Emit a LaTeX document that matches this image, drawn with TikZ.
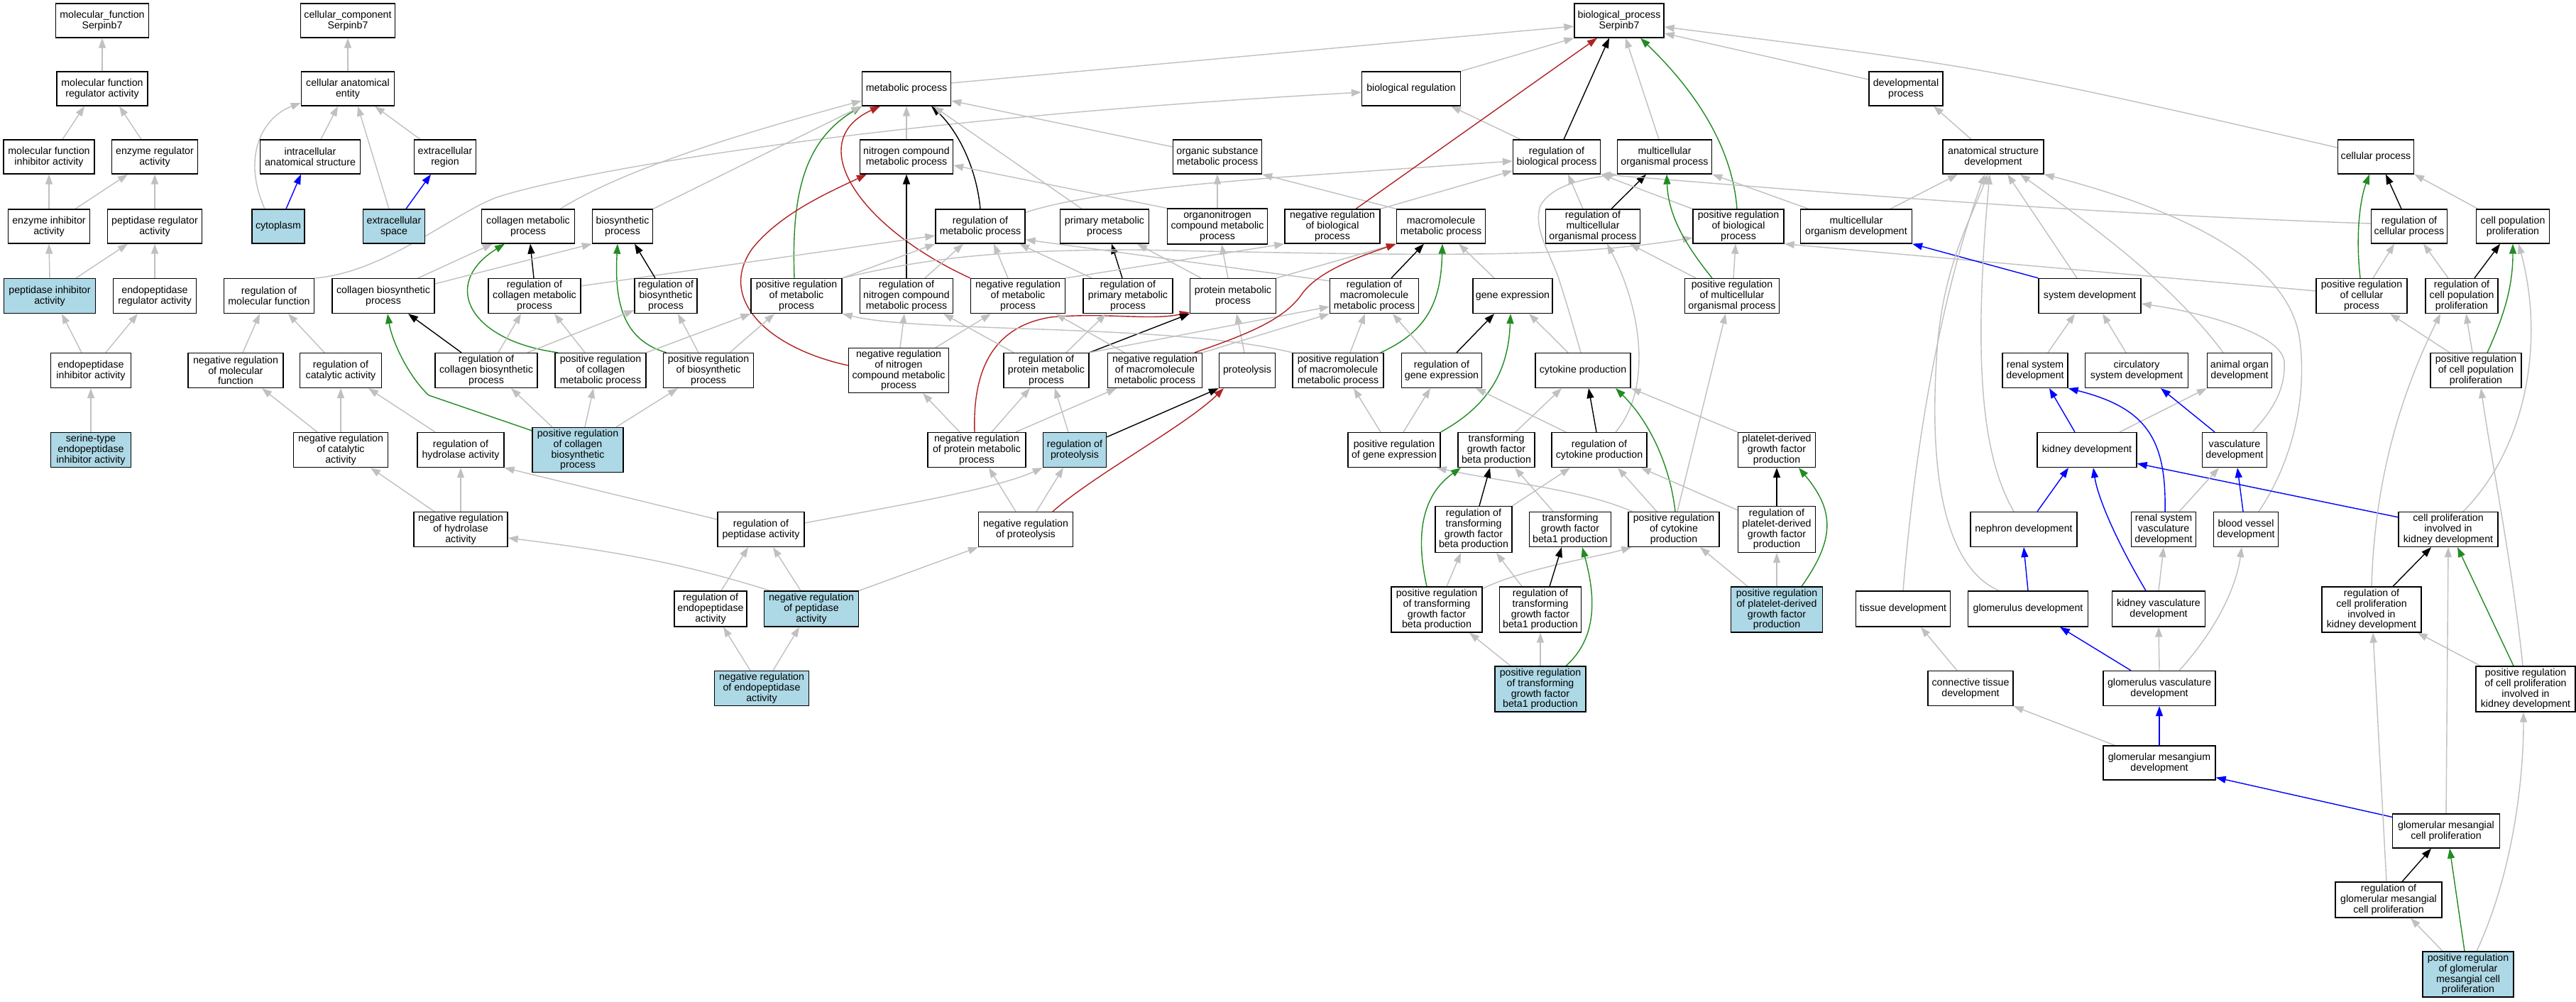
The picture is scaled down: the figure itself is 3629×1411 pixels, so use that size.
\documentclass[tikz,border=0pt]{standalone}
\usepackage{fontspec}
\setmainfont{Liberation Sans}
\usetikzlibrary{arrows.meta}
\definecolor{egray}{HTML}{C0C0C0}
\definecolor{egreen}{HTML}{228B22}
\definecolor{ered}{HTML}{B22222}
\definecolor{eblue}{HTML}{0000FF}
\definecolor{lblue}{HTML}{ADD8E6}
\pgfdeclarelayer{back}
\pgfdeclarelayer{edges}
\pgfsetlayers{back,edges,main}
\tikzset{
 box/.style={draw=black, line width=1.3pt, fill=white, inner sep=0pt, align=center, font=\fontsize{14.2}{14.7}\selectfont},
 hl/.style={fill=lblue},
 arr/.style={line width=1.4pt, -{Triangle[length=14pt,width=10pt]}},
 gE/.style={arr, color=egray},
 kE/.style={arr, color=black},
 grE/.style={arr, color=egreen},
 rE/.style={arr, color=ered},
 bE/.style={arr, color=eblue},
}
\newcommand\GN[7][]{\node[box,#1,minimum width=#5pt,minimum height=#6pt] (#2) at (#3,#4) {#7};}
\newcommand\GE[5]{\draw[#1] ([xshift=#3pt]#2.north) -- ([xshift=#5pt]#4.south);}
\begin{document}
\begin{tikzpicture}[x=1pt,y=-1pt]
\begin{pgfonlayer}{back}
\fill[white] (0,0) rectangle (3629,1411);
\end{pgfonlayer}
\useasboundingbox (0,0) rectangle (3629,1411);
% ---------------- nodes ----------------
\GN{mf}{144}{29}{131}{48}{molecular\_function\\Serpinb7}
\GN{mfra}{144}{125}{128}{48}{molecular function\\regulator activity}
\GN{mfia}{69}{221}{128}{48}{molecular function\\inhibitor activity}
\GN{era}{218}{221}{121}{48}{enzyme regulator\\activity}
\GN{eia}{69}{319}{115}{48}{enzyme inhibitor\\activity}
\GN{pra}{218}{319}{133}{48}{peptidase regulator\\activity}
\GN[hl]{pia}{70}{417}{129}{49}{peptidase inhibitor\\activity}
\GN{epra}{218}{417}{117}{49}{endopeptidase\\regulator activity}
\GN{epia}{128}{522}{113}{49}{endopeptidase\\inhibitor activity}
\GN[hl]{serine}{128}{634}{113}{49}{serine-type\\endopeptidase\\inhibitor activity}
\GN{cc}{490}{29}{133}{48}{cellular\_component\\Serpinb7}
\GN{cae}{490}{125}{131}{48}{cellular anatomical\\entity}
\GN{ias}{437}{221}{141}{48}{intracellular\\anatomical structure}
\GN{ecr}{627}{221}{87}{48}{extracellular\\region}
\GN[hl]{cyto}{392}{319}{74}{48}{cytoplasm}
\GN[hl]{ecs}{555}{319}{87}{48}{extracellular\\space}
\GN{rmf}{379}{417}{127}{49}{regulation of\\molecular function}
\GN{nrmf}{332}{522}{134}{49}{negative regulation\\of molecular\\function}
\GN{rca}{480}{522}{115}{49}{regulation of\\catalytic activity}
\GN{nrca}{480}{634}{133}{49}{negative regulation\\of catalytic\\activity}
\GN{rha}{649}{634}{122}{49}{regulation of\\hydrolase activity}
\GN{nrha}{649}{746}{132}{49}{negative regulation\\of hydrolase\\activity}
\GN{rpa}{1072}{746}{122}{49}{regulation of\\peptidase activity}
\GN{rea}{1001}{858}{102}{50}{regulation of\\endopeptidase\\activity}
\GN[hl]{nrpa}{1143}{858}{133}{50}{negative regulation\\of peptidase\\activity}
\GN[hl]{nrea}{1073}{970}{133}{49}{negative regulation\\of endopeptidase\\activity}
\GN{cmp}{744}{319}{131}{48}{collagen metabolic\\process}
\GN{bp}{877}{319}{85}{48}{biosynthetic\\process}
\GN{cbp}{540}{417}{144}{49}{collagen biosynthetic\\process}
\GN{rcmp}{753}{417}{130}{49}{regulation of\\collagen metabolic\\process}
\GN{rbp}{938}{417}{88}{49}{regulation of\\biosynthetic\\process}
\GN{rcbp}{685}{522}{144}{49}{regulation of\\collagen biosynthetic\\process}
\GN{prcmp}{846}{522}{128}{49}{positive regulation\\of collagen\\metabolic process}
\GN[hl]{prcbp}{814}{634}{128}{63}{positive regulation\\of collagen\\biosynthetic\\process}
\GN{prbp}{998}{522}{127}{49}{positive regulation\\of biosynthetic\\process}
\GN{mp}{1277}{125}{125}{48}{metabolic process}
\GN{ncmp}{1277}{221}{131}{48}{nitrogen compound\\metabolic process}
\GN{osmp}{1715}{221}{125}{48}{organic substance\\metabolic process}
\GN{rmp}{1381}{319}{126}{48}{regulation of\\metabolic process}
\GN{pmp}{1556}{319}{125}{48}{primary metabolic\\process}
\GN{oncmp}{1715}{319}{141}{50}{organonitrogen\\compound metabolic\\process}
\GN{prmp}{1122}{417}{128}{49}{positive regulation\\of metabolic\\process}
\GN{rncmp}{1277}{417}{131}{49}{regulation of\\nitrogen compound\\metabolic process}
\GN{nrmp}{1434}{417}{133}{49}{negative regulation\\of metabolic\\process}
\GN{rpmp}{1589}{417}{126}{49}{regulation of\\primary metabolic\\process}
\GN{protmp}{1737}{417}{121}{49}{protein metabolic\\process}
\GN{nrncmp}{1266}{522}{141}{63}{negative regulation\\of nitrogen\\compound metabolic\\process}
\GN{rprotmp}{1474}{522}{120}{49}{regulation of\\protein metabolic\\process}
\GN{nrmmp}{1627}{522}{133}{49}{negative regulation\\of macromolecule\\metabolic process}
\GN{prot}{1757}{522}{79}{49}{proteolysis}
\GN{nrprotmp}{1376}{634}{138}{49}{negative regulation\\of protein metabolic\\process}
\GN[hl]{rprot}{1514}{634}{89}{49}{regulation of\\proteolysis}
\GN{nrprot}{1445}{746}{133}{49}{negative regulation\\of proteolysis}
\GN{bio}{2281}{29}{126}{48}{biological\_process\\Serpinb7}
\GN{br}{1988}{125}{139}{48}{biological regulation}
\GN{dp}{2685}{125}{104}{48}{developmental\\process}
\GN{rbiop}{2193}{221}{123}{48}{regulation of\\biological process}
\GN{mop}{2345}{221}{133}{48}{multicellular\\organismal process}
\GN{nrbiop}{1877}{319}{134}{48}{negative regulation\\of biological\\process}
\GN{mmp}{2030}{319}{125}{48}{macromolecule\\metabolic process}
\GN{rmop}{2244}{319}{133}{48}{regulation of\\multicellular\\organismal process}
\GN{prbiop}{2449}{319}{128}{48}{positive regulation\\of biological\\process}
\GN{mod}{2615}{319}{157}{48}{multicellular\\organism development}
\GN{rmmp}{1936}{417}{125}{49}{regulation of\\macromolecule\\metabolic process}
\GN{ge}{2131}{417}{112}{49}{gene expression}
\GN{prmop}{2440}{417}{133}{49}{positive regulation\\of multicellular\\organismal process}
\GN{prmmp}{1885}{522}{128}{49}{positive regulation\\of macromolecule\\metabolic process}
\GN{rge}{2031}{522}{113}{49}{regulation of\\gene expression}
\GN{cp}{2230}{522}{134}{49}{cytokine production}
\GN{prge}{1964}{634}{130}{49}{positive regulation\\of gene expression}
\GN{tgfb}{2108}{634}{108}{49}{transforming\\growth factor\\beta production}
\GN{rcp}{2253}{634}{134}{49}{regulation of\\cytokine production}
\GN{pdgf}{2503}{634}{109}{49}{platelet-derived\\growth factor\\production}
\GN{rtgfb}{2076}{746}{108}{65}{regulation of\\transforming\\growth factor\\beta production}
\GN{tgfb1}{2212}{746}{115}{49}{transforming\\growth factor\\beta1 production}
\GN{prcp}{2358}{746}{128}{49}{positive regulation\\of cytokine\\production}
\GN{rpdgf}{2503}{746}{109}{65}{regulation of\\platelet-derived\\growth factor\\production}
\GN{prtgfb}{2024}{859}{128}{64}{positive regulation\\of transforming\\growth factor\\beta production}
\GN{rtgfb1}{2170}{859}{115}{64}{regulation of\\transforming\\growth factor\\beta1 production}
\GN[hl]{prpdgf}{2503}{859}{129}{64}{positive regulation\\of platelet-derived\\growth factor\\production}
\GN[hl]{prtgfb1}{2170}{971}{128}{64}{positive regulation\\of transforming\\growth factor\\beta1 production}
\GN{asd}{2808}{221}{142}{48}{anatomical structure\\development}
\GN{cellp}{3347}{221}{107}{48}{cellular process}
\GN{rcellp}{3394}{319}{107}{48}{regulation of\\cellular process}
\GN{cpp}{3540}{319}{103}{48}{cell population\\proliferation}
\GN{sd}{2944}{417}{144}{49}{system development}
\GN{prcellp}{3327}{417}{128}{49}{positive regulation\\of cellular\\process}
\GN{rcpp}{3468}{417}{102}{49}{regulation of\\cell population\\proliferation}
\GN{prcpp}{3488}{522}{128}{49}{positive regulation\\of cell population\\proliferation}
\GN{rsd}{2867}{522}{92}{49}{renal system\\development}
\GN{csd}{3010}{522}{145}{49}{circulatory\\system development}
\GN{aod}{3155}{522}{91}{49}{animal organ\\development}
\GN{kd}{2940}{634}{140}{49}{kidney development}
\GN{vd}{3148}{634}{91}{49}{vasculature\\development}
\GN{nd}{2851}{746}{150}{49}{nephron development}
\GN{rsvd}{3048}{746}{91}{49}{renal system\\vasculature\\development}
\GN{bvd}{3164}{746}{91}{49}{blood vessel\\development}
\GN{cpkd}{3449}{746}{140}{49}{cell proliferation\\involved in\\kidney development}
\GN{td}{2681}{858}{133}{50}{tissue development}
\GN{gd}{2857}{858}{169}{50}{glomerulus development}
\GN{kvd}{3041}{858}{131}{50}{kidney vasculature\\development}
\GN{rcpkd}{3341}{859}{140}{64}{regulation of\\cell proliferation\\involved in\\kidney development}
\GN{ctd}{2776}{970}{120}{49}{connective tissue\\development}
\GN{gvd}{3042}{970}{158}{49}{glomerulus vasculature\\development}
\GN{prcpkd}{3558}{971}{140}{64}{positive regulation\\of cell proliferation\\involved in\\kidney development}
\GN{gmd}{3042}{1075}{158}{48}{glomerular mesangium\\development}
\GN{gmcp}{3446}{1171}{151}{48}{glomerular mesangial\\cell proliferation}
\GN{rgmcp}{3365}{1268}{150}{50}{regulation of\\glomerular mesangial\\cell proliferation}
\GN[hl]{prgmcp}{3477}{1373}{128}{64}{positive regulation\\of glomerular\\mesangial cell\\proliferation}
% ---------------- edges ----------------
\begin{pgfonlayer}{edges}
% molecular function
\GE{gE}{mfra}{0}{mf}{0}
\GE{gE}{mfia}{19}{mfra}{-25}
\GE{gE}{era}{-19}{mfra}{24}
\GE{gE}{eia}{0}{mfia}{0}
\GE{gE}{eia}{37}{era}{-38}
\GE{gE}{pra}{0}{era}{0}
\GE{gE}{pia}{0}{eia}{0}
\GE{gE}{pia}{37}{pra}{-38}
\GE{gE}{epra}{0}{pra}{0}
\GE{gE}{epia}{-13}{pia}{17}
\GE{gE}{epia}{21}{epra}{-24}
\GE{gE}{serine}{0}{epia}{0}
% cellular component
\GE{gE}{cae}{0}{cc}{0}
\draw[gE] ([xshift=-19pt]cyto.north) .. controls (340,220) and (370,165) .. ([yshift=-20pt]cae.west);
\GE{bE}{cyto}{11}{ias}{-13}
\GE{gE}{ias}{15}{cae}{-14}
\GE{gE}{ecs}{-7}{cae}{14}
\GE{bE}{ecs}{17}{ecr}{-20}
\GE{gE}{ecr}{-35}{cae}{38}
% regulation of molecular function
\draw[gE] (rmf.north east) .. controls (540,385) and (640,300) .. (700,278) .. controls (800,245) and (1200,170) .. ([yshift=-5pt]br.west);
\GE{gE}{nrmf}{10}{rmf}{-13}
\GE{gE}{rca}{-23}{rmf}{27}
\GE{gE}{nrca}{-33}{nrmf}{37}
\GE{gE}{nrca}{0}{rca}{0}
\GE{gE}{rha}{-36}{rca}{39}
\GE{gE}{nrha}{-37}{nrca}{42}
\GE{gE}{nrha}{0}{rha}{0}
\draw[gE] ([yshift=14pt]rpa.west) -- (rha.south east);
\draw[gE] ([xshift=9pt]nrpa.north west) .. controls (950,790) and (850,775) .. ([yshift=-12pt]nrha.east);
\GE{gE}{rea}{15}{rpa}{-18}
\GE{gE}{nrpa}{-15}{rpa}{17}
\draw[gE] (nrpa.north east) -- (nrprot.south west);
\GE{gE}{nrea}{-16}{rea}{18}
\GE{gE}{nrea}{16}{nrpa}{-17}
\draw[gE] ([yshift=9pt]rpa.east) .. controls (1250,715) and (1400,690) .. (rprot.south west);
\GE{gE}{nrprot}{-14}{nrprotmp}{17}
\GE{gE}{nrprot}{15}{rprot}{-16}
\draw[rE] ([xshift=38pt]nrprot.north) .. controls (1540,670) and (1670,600) .. ([xshift=-33pt]prot.south);
\draw[kE] ([yshift=-7pt]rprot.north east) -- (prot.south west);
\GE{gE}{rprot}{-9}{rprotmp}{12}
\GE{gE}{nrprotmp}{-24}{nrncmp}{34}
\GE{gE}{nrprotmp}{21}{rprotmp}{-23}
\GE{gE}{nrprotmp}{55}{nrmmp}{-54}
\draw[rE] ([xshift=-3pt]nrprotmp.north) .. controls (1370,520) and (1400,460) .. (1480,447) .. controls (1560,440) and (1620,452) .. ([yshift=2pt]protmp.south west);
\draw[kE] (rprotmp.north east) -- (protmp.south west);
\GE{gE}{rprotmp}{28}{rpmp}{-31}
\GE{gE}{rprotmp}{-46}{rncmp}{52}
\draw[gE] (rprotmp.north east) -- ([yshift=10pt]rmmp.south west);
\GE{gE}{prot}{-4}{protmp}{5}
\GE{gE}{protmp}{-45}{pmp}{46}
\GE{gE}{protmp}{-7}{oncmp}{6}
\draw[gE] (protmp.north east) -- (mmp.south west);
\GE{gE}{rpmp}{-51}{rmp}{55}
\GE{kE}{rpmp}{-8}{pmp}{10}
\GE{gE}{nrmp}{-14}{rmp}{19}
\draw[rE] (nrmp.north west) .. controls (1210,320) and (1130,200) .. ([xshift=-37pt]mp.south);
\draw[gE] (nrmp.north east) -- (nrbiop.south west);
\GE{gE}{rncmp}{26}{rmp}{-24}
\GE{kE}{rncmp}{0}{ncmp}{0}
\draw[gE] (prmp.north east) -- (rmp.south west);
\draw[grE] ([xshift=-3pt]prmp.north) .. controls (1115,280) and (1130,200) .. (mp.south west);
\draw[gE] (prmp.north east) .. controls (1300,365) and (1400,352) .. (1600,352) .. controls (2000,360) and (2200,365) .. ([yshift=-16pt]prbiop.west);
\draw[gE] (prmmp.north west) .. controls (1650,455) and (1300,470) .. (prmp.south east);
\draw[rE] ([yshift=7pt]nrncmp.west) .. controls (1080,490) and (1010,420) .. (1060,350) .. controls (1100,300) and (1170,270) .. ([xshift=10pt]ncmp.south west);
\GE{gE}{nrncmp}{2}{rncmp}{-3}
\GE{gE}{nrncmp}{52}{nrmp}{-38}
% collagen / biosynthesis
\GE{gE}{prbp}{30}{prmp}{-31}
\GE{gE}{prbp}{-14}{rbp}{17}
\draw[grE] ([xshift=5pt]prbp.north west) .. controls (880,480) and (865,430) .. ([xshift=-7pt]bp.south);
\draw[gE] (prcmp.north east) -- (prmp.south west);
\GE{gE}{prcmp}{-22}{rcmp}{28}
\draw[grE] ([xshift=-60pt]prcmp.north) .. controls (660,480) and (620,400) .. ([xshift=-33pt]cmp.south);
\GE{kE}{rcmp}{-1}{cmp}{3}
\draw[gE] ([yshift=14pt]rcmp.east) -- ([yshift=-13pt]rmp.west);
\GE{gE}{rcbp}{17}{rcmp}{-19}
\draw[gE] ([xshift=58pt]rcbp.north) -- ([yshift=5pt]rbp.south west);
\GE{kE}{rcbp}{-35}{cbp}{35}
\GE{gE}{prcbp}{-36}{rcbp}{35}
\GE{gE}{prcbp}{10}{prcmp}{-10}
\GE{gE}{prcbp}{54}{prbp}{-43}
\draw[grE] ([yshift=-5pt]prcbp.north west) -- (604,557) .. controls (575,530) and (552,480) .. ([xshift=6pt]cbp.south);
\GE{gE}{cbp}{49}{cmp}{-50}
\draw[gE] ([yshift=17pt]cbp.east) -- (bp.south west);
\GE{kE}{rbp}{-15}{bp}{17}
\draw[gE] (bp.north east) -- (mp.south west);
\draw[gE] ([xshift=45pt]cmp.north) .. controls (870,245) and (1000,200) .. ([yshift=-17pt]mp.west);
% metabolic
\GE{gE}{ncmp}{0}{mp}{0}
\draw[kE] (rmp.north) .. controls (1375,230) and (1345,180) .. ([xshift=35pt]mp.south);
\draw[gE] ([yshift=-5pt]rmp.north east) .. controls (1520,275) and (1650,262) .. (1800,250) -- ([yshift=-6pt]rbiop.west);
\GE{gE}{pmp}{-32}{mp}{38}
\draw[gE] ([yshift=14pt]osmp.west) -- ([yshift=-17pt]mp.east);
\draw[gE] (oncmp.north west) -- ([yshift=-12pt]ncmp.east);
\GE{gE}{oncmp}{0}{osmp}{0}
\draw[gE] (mmp.north west) -- (osmp.south east);
% biological process top
\draw[gE] ([yshift=8pt]mp.east) -- ([yshift=-8pt]bio.west);
\draw[gE] (br.north east) -- (bio.south west);
\GE{gE}{rbiop}{-51}{br}{56}
\GE{kE}{rbiop}{10}{bio}{-14}
\GE{gE}{mop}{-8}{bio}{9}
\GE{rE}{nrbiop}{33}{bio}{-31}
\draw[gE] (nrbiop.north east) -- ([yshift=5pt]rbiop.south west);
\draw[grE] ([xshift=-2pt]prbiop.north) .. controls (2440,200) and (2380,120) .. ([xshift=30pt]bio.south);
\draw[gE] ([yshift=13pt]dp.west) -- ([yshift=-18pt]bio.east);
\draw[gE] ([yshift=13pt]cellp.west) .. controls (2800,95) .. ([yshift=-9pt]bio.east);
\draw[gE] ([xshift=12pt]mod.north west) -- (mop.south east);
\GE{gE}{mod}{48}{asd}{-50}
\GE{kE}{rmop}{26}{mop}{-26}
\GE{gE}{rmop}{-14}{rbiop}{16}
\draw[gE] (prbiop.north west) -- (rbiop.south east);
\draw[gE] ([xshift=-3pt]cp.north) .. controls (2215,455) and (2205,420) .. (2195,390) .. controls (2180,350) and (2160,320) .. (2170,290) .. controls (2185,262) and (2230,252) .. (mop.south west);
\draw[gE] ([yshift=4pt]rcellp.west) .. controls (2900,300) and (2500,265) .. (rbiop.south east);
\draw[gE] ([yshift=7pt]prcellp.west) -- (prbiop.south east);
\draw[gE] ([xshift=16pt]prmop.north west) -- ([xshift=52pt]rmop.south);
\GE{gE}{prmop}{2}{prbiop}{-4}
\draw[grE] ([xshift=-28pt]prmop.north) .. controls (2370,340) and (2350,300) .. ([xshift=3pt]mop.south);
\draw[gE] ([xshift=23pt]rcp.north) .. controls (2330,545) and (2310,430) .. ([xshift=20pt]rmop.south);
\GE{gE}{prcp}{5}{prmop}{-9}
% macromolecule / gene expression
\GE{kE}{rmmp}{24}{mmp}{-24}
\draw[gE] ([yshift=-4pt]rmmp.north west) -- ([yshift=6pt]rmp.south east);
\draw[grE] ([xshift=60pt]prmmp.north) .. controls (2015,465) and (2030,420) .. ([xshift=2pt]mmp.south);
\GE{gE}{prmmp}{17}{rmmp}{-13}
\draw[rE] ([xshift=56pt]nrmmp.north) .. controls (1760,470) and (1810,450) .. (1835,413) .. controls (1860,380) and (1920,360) .. (mmp.south west);
\draw[gE] (nrmmp.north east) -- (rmmp.south west);
\GE{gE}{nrmmp}{-43}{nrmp}{53}
\GE{gE}{ge}{-26}{mmp}{25}
\GE{kE}{rge}{21}{ge}{-26}
\GE{gE}{rge}{-22}{rmmp}{26}
\GE{gE}{cp}{-21}{ge}{23}
\draw[grE] (prge.north east) .. controls (2100,570) and (2125,520) .. ([xshift=-3pt]ge.south);
\GE{gE}{prge}{13}{rge}{-16}
\GE{gE}{prge}{-19}{prmmp}{22}
% cytokine
\GE{kE}{rcp}{-4}{cp}{8}
\GE{gE}{rcp}{-47}{rge}{48}
\GE{gE}{tgfb}{27}{cp}{-30}
\draw[gE] (pdgf.north west) -- (cp.south east);
\draw[grE] ([xshift=2pt]prcp.north) .. controls (2352,650) and (2320,590) .. ([xshift=46pt]cp.south);
\GE{gE}{prcp}{-24}{rcp}{26}
\draw[gE] ([xshift=6pt]prcp.north west) .. controls (2230,690) and (2120,680) .. ([xshift=-6pt]prge.south east);
\GE{kE}{rtgfb}{8}{tgfb}{-9}
\draw[gE] (rtgfb.north east) -- ([xshift=-41pt]rcp.south);
\GE{gE}{tgfb1}{-24}{tgfb}{26}
\GE{kE}{rpdgf}{0}{pdgf}{0}
\draw[gE] ([yshift=-6pt]rpdgf.north west) -- ([xshift=-9pt]rcp.south east);
\GE{gE}{prtgfb}{14}{rtgfb}{-18}
\draw[grE] ([xshift=-14pt]prtgfb.north) .. controls (1995,760) and (2000,700) .. ([xshift=-50pt]tgfb.south);
\draw[gE] ([yshift=-3pt]prtgfb.north east) .. controls (2150,800) and (2250,785) .. ([xshift=5pt]prcp.south west);
\GE{kE}{rtgfb1}{13}{tgfb1}{-12}
\GE{gE}{rtgfb1}{-26}{rtgfb}{32}
\GE{gE}{prtgfb1}{-42}{prtgfb}{46}
\GE{gE}{prtgfb1}{0}{rtgfb1}{0}
\draw[grE] ([xshift=36pt]prtgfb1.north) .. controls (2255,895) and (2245,830) .. ([xshift=17pt]tgfb1.south);
\GE{gE}{prpdgf}{0}{rpdgf}{0}
\GE{gE}{prpdgf}{-41}{prcp}{37}
\draw[grE] ([xshift=35pt]prpdgf.north) .. controls (2585,760) and (2585,720) .. ([xshift=31pt]pdgf.south);
% development
\GE{gE}{asd}{-31}{dp}{39}
\GE{gE}{sd}{-18}{asd}{20}
\draw[bE] (sd.north west) -- (mod.south east);
\draw[gE] (td.north) .. controls (2700,600) and (2740,400) .. ([xshift=-12pt]asd.south);
\draw[gE] ([xshift=-41pt]gd.north) .. controls (2720,790) and (2720,600) .. (2730,480) .. controls (2740,370) and (2780,300) .. ([xshift=-8pt]asd.south);
\draw[gE] ([xshift=-14pt]nd.north) .. controls (2790,640) and (2780,500) .. ([xshift=-5pt]asd.south);
\draw[gE] ([xshift=-23pt]aod.north) .. controls (3060,400) and (2950,320) .. ([xshift=38pt]asd.south);
\draw[gE] ([xshift=18pt]bvd.north) .. controls (3230,650) and (3250,560) .. (3240,480) .. controls (3225,360) and (3050,290) .. (asd.south east);
\GE{gE}{rsd}{18}{sd}{-21}
\GE{gE}{csd}{-15}{sd}{18}
\draw[gE] ([xshift=25pt]vd.north) .. controls (3200,580) and (3220,550) .. (3218,510) .. controls (3215,470) and (3100,440) .. ([yshift=-11pt]sd.east);
\GE{bE}{kd}{-17}{rsd}{20}
\draw[gE] ([xshift=46pt]kd.north) -- (aod.south west);
\draw[bE] ([xshift=2pt]rsvd.north) .. controls (3052,620) and (3025,575) .. (rsd.south east);
\GE{bE}{vd}{-28}{csd}{34}
\GE{bE}{nd}{19}{kd}{-26}
\draw[bE] ([xshift=-18pt]kvd.north) .. controls (2980,760) and (2955,700) .. ([xshift=9pt]kd.south);
\draw[bE] ([yshift=-8pt]cpkd.north west) -- ([yshift=6pt]kd.south east);
\GE{gE}{rsvd}{22}{vd}{-22}
\GE{bE}{bvd}{-4}{vd}{4}
\GE{bE}{gd}{0}{nd}{0}
\GE{gE}{kvd}{0}{rsvd}{0}
\GE{bE}{gvd}{-40}{gd}{45}
\GE{gE}{gvd}{0}{kvd}{0}
\draw[gE] ([xshift=28pt]gvd.north) .. controls (3120,890) and (3150,830) .. ([xshift=-6pt]bvd.south);
\GE{gE}{ctd}{-19}{td}{25}
\GE{bE}{gmd}{0}{gvd}{0}
\draw[gE] ([xshift=17pt]gmd.north west) -- (ctd.south east);
\draw[bE] ([yshift=-5pt]gmcp.north west) -- ([yshift=4pt]gmd.south east);
\GE{gE}{gmcp}{0}{cpkd}{0}
\GE{kE}{rgmcp}{19}{gmcp}{-21}
\GE{gE}{rgmcp}{-3}{rcpkd}{2}
\GE{gE}{prgmcp}{-36}{rgmcp}{31}
\GE{grE}{prgmcp}{-5}{gmcp}{5}
\draw[gE] ([xshift=12pt]prgmcp.north) .. controls (3540,1230) and (3555,1100) .. ([xshift=-3pt]prcpkd.south);
\GE{kE}{rcpkd}{30}{cpkd}{-24}
\draw[gE] (rcpkd.north) .. controls (3345,680) and (3380,560) .. ([xshift=-30pt]rcpp.south);
\draw[gE] ([xshift=7pt]prcpkd.north west) -- ([xshift=-6pt]rcpkd.south east);
\GE{grE}{prcpkd}{-17}{cpkd}{13}
\draw[gE] ([xshift=-4pt]prcpkd.north) .. controls (3540,800) and (3510,650) .. ([xshift=7pt]prcpp.south);
\draw[gE] ([xshift=21pt]cpkd.north) .. controls (3560,630) and (3585,480) .. ([xshift=8pt]cpp.south);
\GE{gE}{prcpp}{-5}{rcpp}{6}
\GE{gE}{prcpp}{-37}{prcellp}{40}
\draw[grE] ([xshift=16pt]prcpp.north) .. controls (3530,440) and (3540,400) .. (cpp.south);
\GE{kE}{rcpp}{18}{cpp}{-18}
\GE{gE}{rcpp}{-19}{rcellp}{20}
\GE{gE}{prcellp}{16}{rcellp}{-21}
\draw[grE] ([xshift=-2pt]prcellp.north) .. controls (3318,330) and (3325,280) .. ([xshift=-9pt]cellp.south);
\GE{kE}{rcellp}{-11}{cellp}{14}
\draw[gE] ([xshift=3pt]cpp.north west) -- (cellp.south east);
\end{pgfonlayer}
\end{tikzpicture}
\end{document}
